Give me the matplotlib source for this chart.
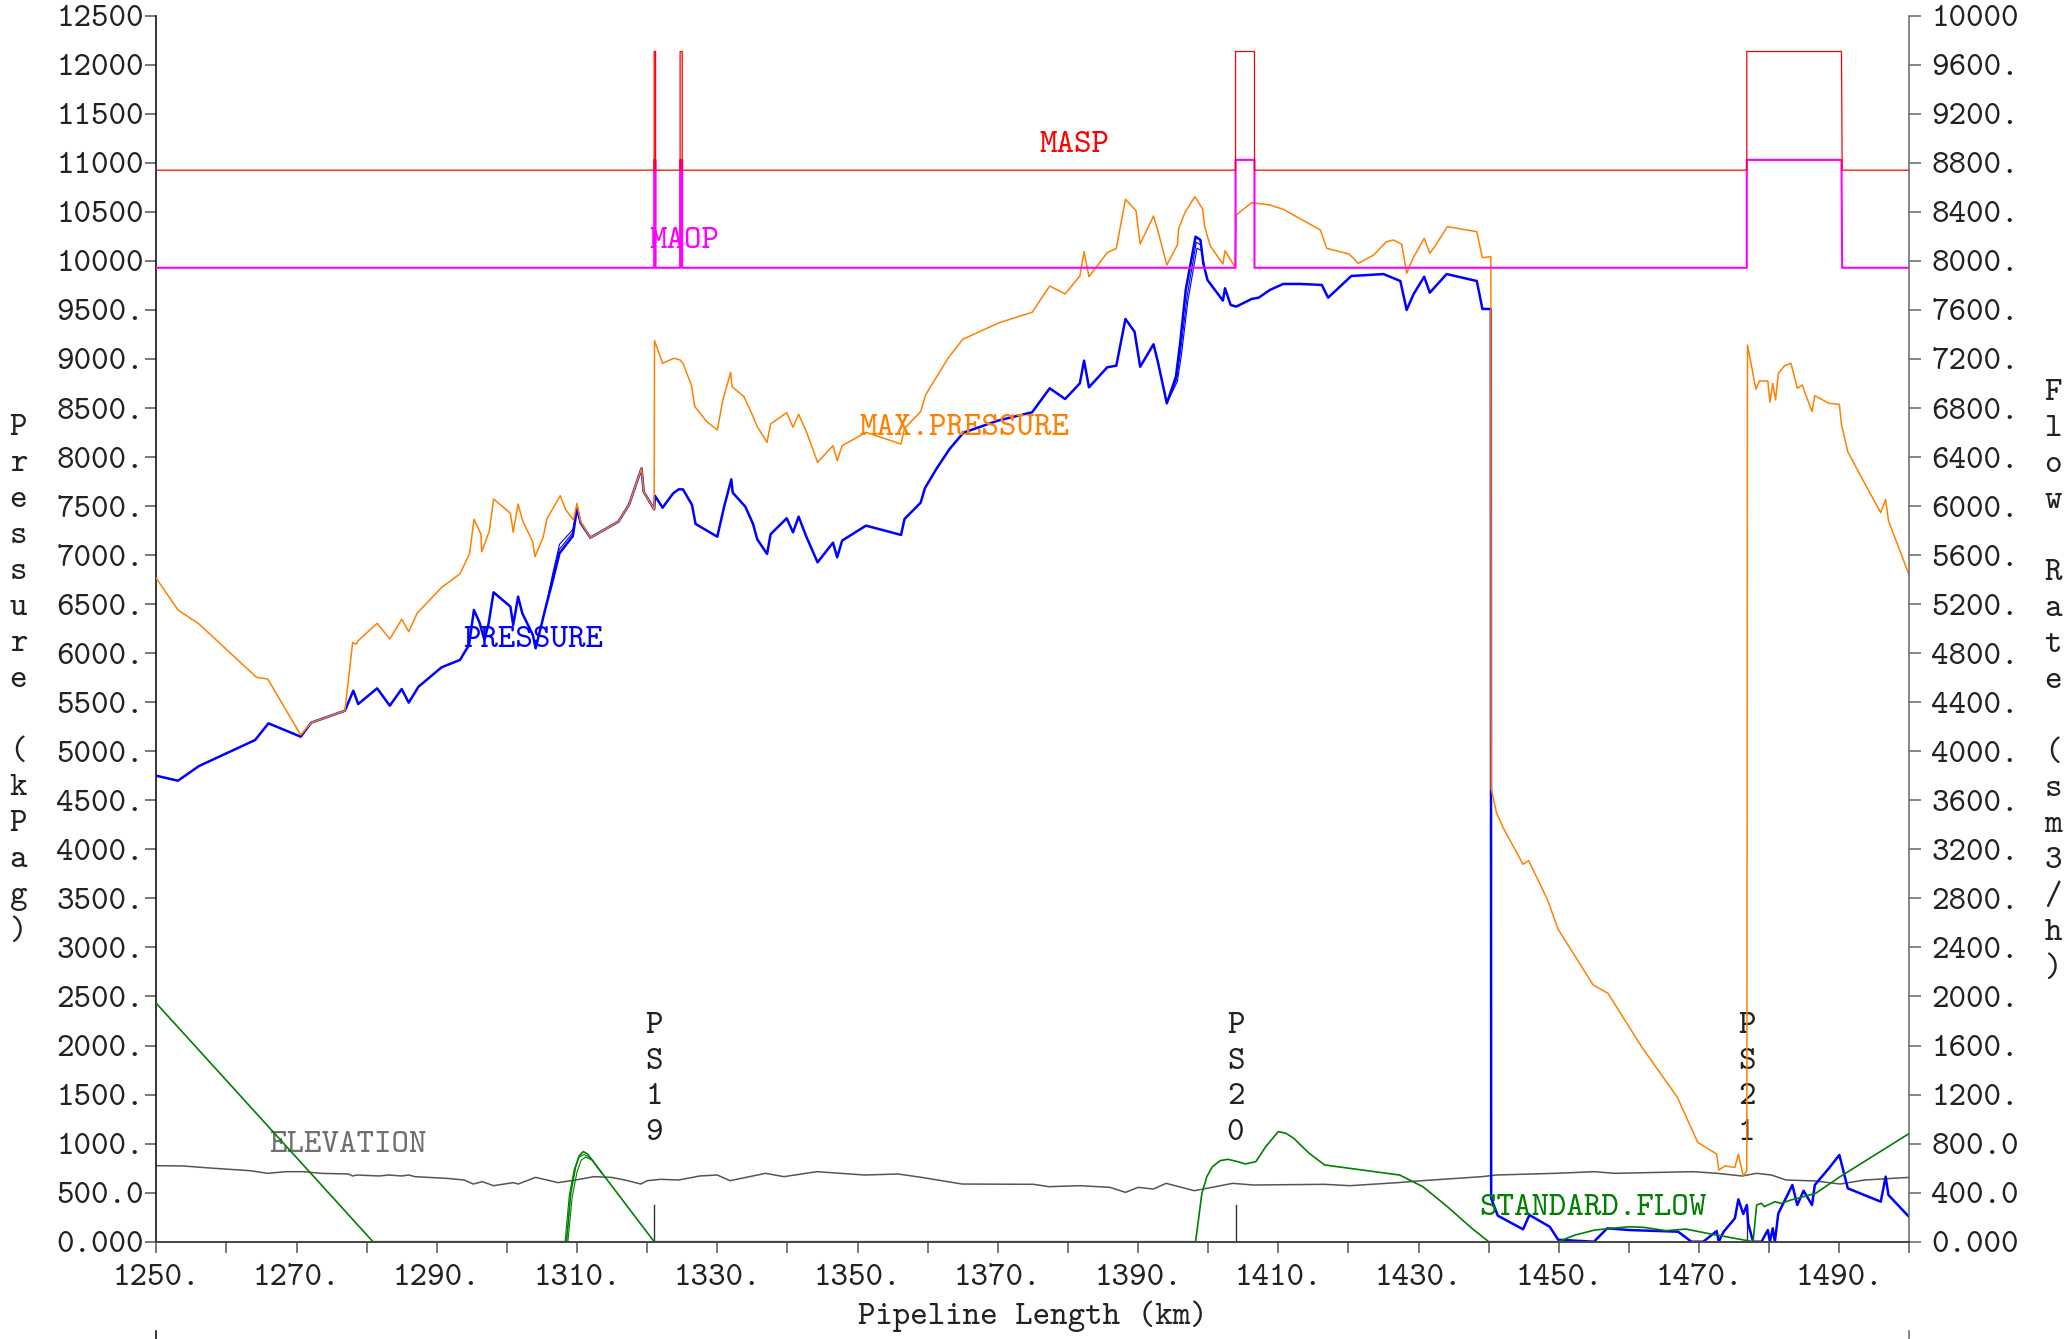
import numpy as np
import matplotlib.pyplot as plt
from matplotlib.ticker import FuncFormatter
from matplotlib.lines import Line2D

plt.rcParams['font.family'] = ['cmtt10', 'DejaVu Sans Mono']
FS = 24

# ---- data (km along pipeline, pressures in kPag, flow in sm3/h) ----
elev_km = [1250.0, 1253.8, 1258.3, 1263.4, 1265.9, 1268.5, 1271.0, 1273.5, 1277.4, 1278.0,
           1278.6, 1281.8, 1283.1, 1285.0, 1286.0, 1286.9, 1291.4, 1293.9, 1295.2, 1296.5,
           1298.1, 1300.9, 1301.6, 1304.1, 1307.3, 1309.8, 1312.4, 1314.9, 1316.8, 1319.1,
           1320.0, 1321.9, 1324.5, 1327.5, 1330.0, 1331.8, 1336.9, 1339.5, 1344.2, 1351.0,
           1355.8, 1359.1, 1364.9, 1375.1, 1377.3, 1381.7, 1386.0, 1388.2, 1390.0, 1392.2,
           1394.0, 1395.5, 1398.0, 1399.8, 1403.5, 1406.4, 1416.6, 1420.2, 1427.0, 1429.9,
           1439.0, 1441.1, 1449.5, 1455.1, 1457.9, 1469.1, 1472.6, 1476.1, 1478.2, 1480.3,
           1482.4, 1486.6, 1490.1, 1493.6, 1500.0]
elevation = [775, 772, 748, 724, 697, 714, 714, 697, 690, 670,
             680, 670, 680, 670, 680, 663, 646, 629, 588, 612,
             571, 602, 588, 656, 602, 629, 663, 656, 629, 588,
             622, 636, 629, 670, 680, 622, 697, 663, 714, 680,
             690, 656, 588, 585, 561, 571, 554, 503, 554, 537,
             595, 567, 520, 544, 595, 578, 585, 571, 602, 619,
             663, 680, 697, 714, 697, 714, 697, 670, 697, 680,
             629, 619, 588, 629, 656]

maxp_km = [1250.0, 1253.1, 1256.1, 1264.3, 1265.9, 1270.6, 1272.1, 1276.9, 1278.0, 1278.5,
           1278.8, 1281.5, 1283.3, 1285.0, 1286.0, 1287.2, 1290.7, 1293.3, 1294.7, 1295.3,
           1296.3, 1296.4, 1297.5, 1298.1, 1300.5, 1300.9, 1301.6, 1302.2, 1303.7, 1304.0,
           1305.2, 1305.7, 1307.6, 1308.4, 1309.5, 1310.0, 1310.5, 1311.9, 1315.9, 1317.4,
           1319.2, 1319.5, 1321.0, 1321.05, 1322.2, 1323.8, 1324.7, 1325.1, 1326.3, 1326.8,
           1328.5, 1330.0, 1330.8, 1331.9, 1332.1, 1333.8, 1334.9, 1335.7, 1337.1, 1337.6,
           1339.9, 1340.8, 1341.6, 1342.7, 1344.3, 1346.5, 1347.1, 1347.8, 1351.2, 1356.2,
           1356.7, 1359.0, 1359.7, 1362.9, 1365.0, 1370.2, 1374.9, 1377.4, 1379.6, 1381.7,
           1382.3, 1383.0, 1385.6, 1386.9, 1388.2, 1389.7, 1390.3, 1392.2, 1392.8, 1394.1,
           1395.6, 1395.8, 1396.7, 1398.1, 1399.2, 1399.5, 1400.3, 1402.1, 1402.4, 1403.8,
           1404.0, 1406.2, 1408.8, 1410.7, 1413.1, 1416.0, 1416.9, 1420.1, 1421.4, 1423.6,
           1425.4, 1426.4, 1427.6, 1428.3, 1429.2, 1430.8, 1431.6, 1432.3, 1434.1, 1438.3,
           1439.1, 1440.3, 1440.35, 1441.1, 1442.1, 1444.9, 1445.7, 1448.4, 1449.9, 1454.9,
           1457.0, 1461.8, 1466.9, 1469.8, 1472.5, 1472.8, 1473.7, 1475.1, 1475.6, 1476.3,
           1476.8, 1476.9, 1478.1, 1478.6, 1479.8, 1480.1, 1480.5, 1480.9, 1481.3, 1482.2,
           1483.1, 1484.0, 1484.7, 1486.1, 1486.5, 1488.5, 1490.0, 1490.3, 1491.2, 1493.6,
           1495.9, 1496.6, 1497.0, 1500.0]
max_pressure = [6764, 6441, 6298, 5754, 5737, 5166, 5292, 5414, 6108, 6094,
                6128, 6305, 6145, 6346, 6220, 6407, 6672, 6808, 7019, 7366,
                7216, 7035, 7246, 7573, 7427, 7233, 7522, 7359, 7131, 6984,
                7188, 7369, 7606, 7461, 7359, 7528, 7342, 7178, 7342, 7512,
                7885, 7647, 7467, 9187, 8956, 9007, 8990, 8956, 8735, 8514,
                8361, 8276, 8582, 8864, 8718, 8616, 8446, 8310, 8150, 8337,
                8453, 8303, 8436, 8259, 7946, 8116, 7963, 8116, 8252, 8133,
                8293, 8463, 8633, 9007, 9201, 9370, 9476, 9744, 9663, 9846,
                10094, 9839, 10084, 10128, 10628, 10512, 10173, 10458, 10315, 9958,
                10162, 10332, 10495, 10655, 10530, 10349, 10152, 9968, 10104, 9941,
                10468, 10594, 10570, 10526, 10430, 10315, 10128, 10070, 9975, 10060,
                10196, 10213, 10169, 9873, 10026, 10230, 10078, 10145, 10349, 10298,
                10033, 10043, 4623, 4374, 4215, 3848, 3885, 3484, 3185, 2617,
                2533, 1988, 1472, 1013, 894, 731, 772, 758, 891, 670,
                724, 9143, 8691, 8776, 8776, 8558, 8752, 8582, 8854, 8932,
                8956, 8701, 8735, 8463, 8626, 8548, 8538, 8335, 8055, 7733,
                7433, 7569, 7351, 6788]

pres_km = [1250.0, 1253.1, 1256.1, 1264.1, 1266.0, 1270.6, 1272.1, 1276.9, 1278.1, 1278.8,
           1281.5, 1283.3, 1285.0, 1286.0, 1287.4, 1290.7, 1293.3, 1294.6, 1295.3, 1296.1,
           1296.8, 1297.4, 1298.1, 1300.5, 1300.9, 1301.6, 1302.2, 1303.7, 1304.1, 1305.5,
           1306.5, 1307.5, 1309.4, 1310.0, 1310.5, 1311.9, 1315.9, 1317.4, 1319.2, 1319.5,
           1321.0, 1321.1, 1322.2, 1323.7, 1324.5, 1325.1, 1326.4, 1326.9, 1330.0, 1331.0,
           1332.0, 1332.2, 1334.0, 1335.1, 1335.7, 1337.1, 1337.6, 1339.9, 1340.8, 1341.6,
           1342.7, 1344.3, 1346.5, 1347.1, 1347.8, 1351.2, 1356.2, 1356.7, 1359.0, 1359.6,
           1361.3, 1363.1, 1365.1, 1370.0, 1374.9, 1377.4, 1379.6, 1381.7, 1382.3, 1383.0,
           1385.6, 1386.9, 1388.2, 1389.5, 1390.3, 1392.2, 1392.8, 1394.1, 1395.4, 1396.0,
           1396.8, 1398.2, 1398.9, 1399.3, 1399.9, 1402.1, 1402.4, 1403.2, 1404.0, 1406.2,
           1407.2, 1408.8, 1410.7, 1413.1, 1416.2, 1417.1, 1420.4, 1425.0, 1427.4, 1428.3,
           1429.3, 1430.8, 1431.6, 1434.0, 1438.3, 1439.1, 1440.3, 1440.35, 1441.3, 1444.9,
           1445.8, 1448.7, 1449.9, 1453.7, 1455.0, 1456.9, 1460.0, 1467.0, 1468.9, 1470.6,
           1472.5, 1472.8, 1473.5, 1475.1, 1475.6, 1476.3, 1476.8, 1477.0, 1477.7, 1478.9,
           1479.8, 1480.1, 1480.5, 1480.8, 1481.3, 1483.3, 1484.0, 1484.9, 1486.1, 1486.5,
           1488.5, 1490.0, 1491.2, 1495.9, 1496.6, 1497.0, 1500.0]
pressure = [4751, 4700, 4850, 5115, 5285, 5149, 5292, 5414, 5618, 5482,
            5642, 5465, 5635, 5496, 5659, 5857, 5931, 6084, 6441, 6312,
            6135, 6305, 6621, 6475, 6288, 6577, 6407, 6186, 6050, 6458,
            6730, 7019, 7195, 7478, 7331, 7178, 7342, 7512, 7885, 7647,
            7467, 7606, 7484, 7630, 7671, 7671, 7512, 7318, 7188, 7501,
            7773, 7637, 7494, 7318, 7161, 7012, 7213, 7376, 7233, 7392,
            7188, 6927, 7127, 6978, 7148, 7301, 7206, 7369, 7535, 7682,
            7886, 8080, 8249, 8371, 8457, 8701, 8592, 8752, 8983, 8711,
            8915, 8932, 9408, 9278, 8921, 9150, 8979, 8548, 8820, 9160,
            9704, 10247, 10213, 9975, 9805, 9595, 9721, 9551, 9534, 9612,
            9625, 9704, 9765, 9765, 9755, 9625, 9846, 9866, 9795, 9500,
            9663, 9839, 9676, 9866, 9795, 9510, 9510, 442, 265, 126,
            272, 153, 20, 5, 0, 136, 119, 102, 0, 0,
            109, 0, 102, 238, 432, 282, 374, 187, 0, 0,
            119, 0, 136, 0, 289, 578, 374, 520, 374, 578,
            748, 884, 544, 408, 663, 476, 249]

# other time steps, only where they split from the main pressure trace
pres_b_km = [1305.5, 1306.5, 1307.5, 1309.4, 1310.0]
pres_b = [6458, 6800, 7110, 7260, 7478]
pres_c_km = [1305.5, 1306.5, 1307.5, 1309.4, 1310.0]
pres_c = [6458, 6770, 7060, 7230, 7478]
pres_d_km = [1394.1, 1395.5, 1396.1, 1397.0, 1398.3, 1399.0, 1399.4, 1399.9]
pres_d = [8548, 8790, 9100, 9640, 10190, 10160, 9950, 9805]
pres_e_km = [1394.1, 1395.6, 1396.2, 1397.1, 1398.4, 1399.1, 1399.5, 1399.9]
pres_e = [8548, 8770, 9050, 9590, 10130, 10100, 9920, 9805]

flow_km = [1250.0, 1280.9, 1308.5, 1309.1, 1309.8, 1310.3, 1310.9, 1311.5, 1321.0, 1398.2,
           1399.1, 1399.8, 1400.6, 1401.7, 1402.8, 1404.2, 1405.3, 1406.8, 1408.2, 1410.0,
           1411.1, 1412.2, 1414.4, 1416.6, 1420.2, 1427.3, 1430.6, 1434.1, 1437.6, 1440.0,
           1449.9, 1452.3, 1455.1, 1460.0, 1462.1, 1465.3, 1468.1, 1471.2, 1477.7, 1478.2,
           1478.9, 1479.3, 1480.8, 1481.7, 1483.1, 1486.6, 1490.1, 1500.0]
std_flow = [1945, 0, 0, 394, 612, 700, 735, 715, 0, 0,
            394, 530, 612, 661, 672, 653, 634, 653, 775, 898,
            884, 843, 721, 626, 598, 544, 449, 286, 109, 0,
            0, 54, 95, 122, 117, 90, 103, 68, 0, 299,
            313, 286, 326, 313, 340, 394, 530, 884]
flow_b_km = [1308.3, 1308.9, 1309.6, 1310.3, 1311.0, 1312.0, 1313.5]
flow_b = [0, 380, 590, 690, 712, 680, 560]
flow_c_km = [1308.7, 1309.3, 1310.0, 1310.6, 1311.2, 1312.2, 1313.5]
flow_c = [0, 360, 570, 665, 690, 665, 560]

limit_km = [1250, 1321.0, 1321.0, 1321.2, 1321.2, 1324.7, 1324.7, 1325.0, 1325.0,
            1403.9, 1403.9, 1406.6, 1406.6, 1476.8, 1476.8, 1490.3, 1490.4, 1500]
masp = [10925, 10925, 12135, 12135, 10925, 10925, 12135, 12135, 10925,
        10925, 12135, 12135, 10925, 10925, 12135, 12135, 10925, 10925]
maop = [9930, 9930, 11030, 11030, 9930, 9930, 11030, 11030, 9930,
        9930, 11030, 11030, 9930, 9930, 11030, 11030, 9930, 9930]

stations = ['PS19', 'PS20', 'PS21']
station_km = [1321.0, 1403.9, 1476.8]


def fmt5(v, pos=None):
    s = str(int(round(v)))
    if len(s) >= 5:
        return s
    d = 4 - len(s)
    return f"{v:.{d}f}" if d > 0 else s + "."


fig = plt.figure(figsize=(20.7, 13.39), dpi=100)
ax = fig.add_axes([0.07548, 0.07267, 0.84698, 0.9156])
ax2 = ax.twinx()

ax.plot(elev_km, elevation, color='#555555', lw=1.1, zorder=2)
ax.plot(pres_b_km, pres_b, color='#0000ff', lw=0.8, zorder=3)
ax.plot(pres_c_km, pres_c, color='#0000ff', lw=0.8, zorder=3)
ax.plot(pres_d_km, pres_d, color='#0000ff', lw=0.8, zorder=3)
ax.plot(pres_e_km, pres_e, color='#0000ff', lw=0.8, zorder=3)
ax.plot(pres_km, pressure, color='#0000ff', lw=1.8, zorder=3)
ax.plot(maxp_km, max_pressure, color='#ff8000', lw=1.1, zorder=4)
ax.plot(limit_km, maop, color='#ff00ff', lw=1.5, zorder=5)
ax.plot(limit_km, masp, color='#ff0000', lw=0.9, zorder=6)

ax2.plot(flow_b_km, flow_b, color='#008000', lw=0.8)
ax2.plot(flow_c_km, flow_c, color='#008000', lw=0.8)
ax2.plot(flow_km, std_flow, color='#008000', lw=1.2)

# pump station markers
for name, km in zip(stations, station_km):
    ax.plot([km, km], [0, 374], color='#333333', lw=1.0, zorder=2)
    for i, ch in enumerate(name):
        ax.text(km, 2125 - i * 363, ch, ha='center', va='baseline', fontsize=FS, color='#222222')

ax.text(1380.9, 11113, 'MASP', color='#ff0000', ha='center', va='baseline', fontsize=FS)
ax.text(1325.3, 10129, 'MAOP', color='#ff00ff', ha='center', va='baseline', fontsize=FS)
ax.text(1365.2, 8223, 'MAX.PRESSURE', color='#ff8000', ha='center', va='baseline', fontsize=FS)
ax.text(1303.7, 6067, 'PRESSURE', color='#0000ff', ha='center', va='baseline', fontsize=FS)
ax.text(1277.4, 918, 'ELEVATION', color='#707070', ha='center', va='baseline', fontsize=FS)
ax2.text(1454.9, 218, 'STANDARD.FLOW', color='#008000', ha='center', va='baseline', fontsize=FS)

ax.set_xlim(1250, 1500)
ax.set_ylim(0, 12500)
ax2.set_ylim(0, 10000)

ax.set_xticks(np.arange(1250, 1500, 20))
ax.set_xticks(np.arange(1260, 1501, 20), minor=True)
ax.set_yticks(np.arange(0, 12501, 500))
ax2.set_yticks(np.arange(0, 10001, 400))
ax.xaxis.set_major_formatter(FuncFormatter(fmt5))
ax.yaxis.set_major_formatter(FuncFormatter(fmt5))
ax2.yaxis.set_major_formatter(FuncFormatter(fmt5))

ax.tick_params(axis='x', which='both', direction='out', length=7.7, width=1.1,
               color='#555555', pad=8, labelsize=FS, labelcolor='#222222')
ax.tick_params(axis='y', direction='out', length=7.9, width=1.1,
               color='#555555', pad=1, labelsize=FS, labelcolor='#222222')
ax2.tick_params(axis='y', direction='out', length=8.6, width=1.1,
                color='#666666', pad=7, labelsize=FS, labelcolor='#222222')

# bottom line comes from the twin so it sits over the curves lying on zero
for s in ['top', 'right', 'bottom']:
    ax.spines[s].set_visible(False)
for s in ['top', 'left']:
    ax2.spines[s].set_visible(False)
ax.spines['left'].set_color('black')
ax.spines['left'].set_linewidth(1.1)
ax2.spines['bottom'].set_color('#444444')
ax2.spines['bottom'].set_linewidth(1.4)
ax2.spines['right'].set_color('#666666')
ax2.spines['right'].set_linewidth(1.1)

ax.set_xlabel('Pipeline Length (km)', fontsize=FS, color='#222222', labelpad=6)

# stacked axis titles
for i, ch in enumerate('Pressure (kPag)'):
    fig.text(0.00884, 0.6751 - i * 0.02689, ch, ha='center', va='baseline', fontsize=FS, color='#222222')
for i, ch in enumerate('Flow Rate (sm3/h)'):
    fig.text(0.9918, 0.7013 - i * 0.02689, ch, ha='center', va='baseline', fontsize=FS, color='#222222')

fig.add_artist(Line2D([0.07548, 0.07548], [0, 0.006], color='black', lw=1.1))
fig.add_artist(Line2D([0.92246, 0.92246], [0, 0.006], color='#666666', lw=1.1))

fig.savefig('out.png', dpi=100)
